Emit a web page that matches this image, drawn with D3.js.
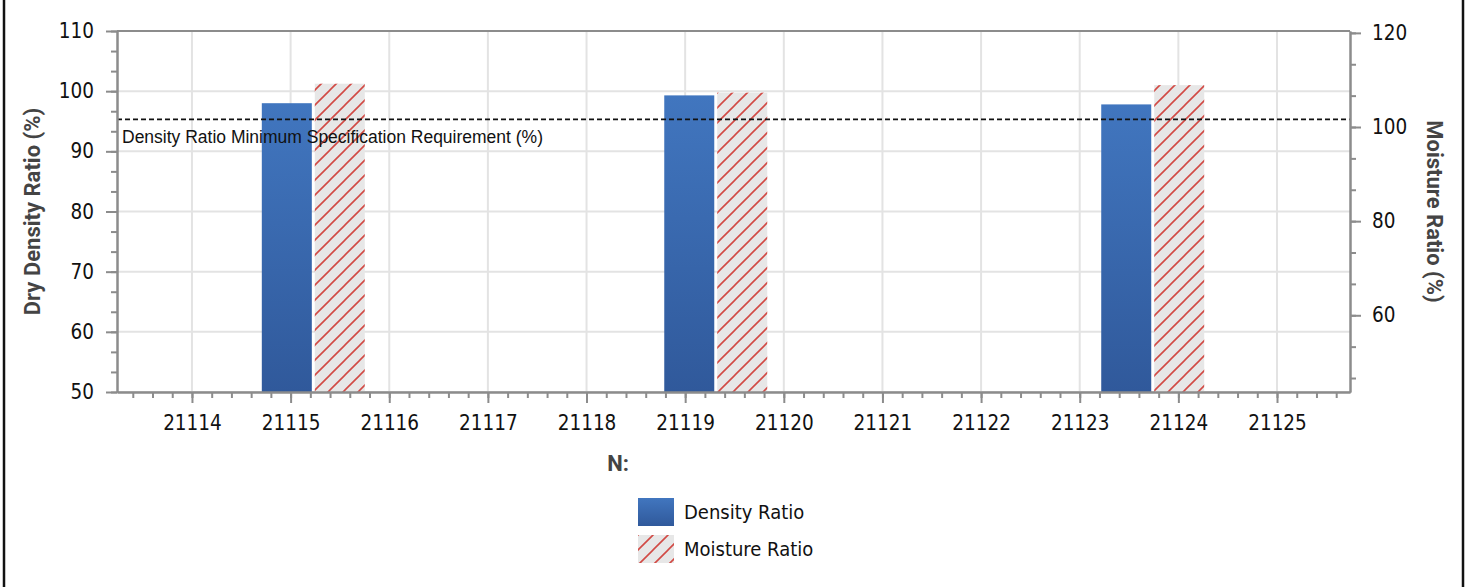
<!DOCTYPE html>
<html lang="en">
<head>
<meta charset="UTF-8">
<title>Density / Moisture Ratio</title>
<script src="https://cdn.jsdelivr.net/npm/d3@7/dist/d3.min.js"></script>
<style>
  body { margin: 0; background: #fff; }
  .tick text { font-family: "DejaVu Sans Condensed", "DejaVu Sans", sans-serif; }
</style>
</head>
<body>
<div id="main_container"></div>
<script>

    // data
    var categories = [21115.23, 21119.31, 21123.74];   // group centers on the N: axis
    var densityRatio = [98.0, 99.3, 97.8];            // left axis
    var moistureRatio = [109.2, 107.3, 108.9];        // right axis
    var specMin = 95.3;
    var leftTicks = [50, 60, 70, 80, 90, 100, 110];
    var rightTicks = [60, 80, 100, 120];
    var xTicks = [21114, 21115, 21116, 21117, 21118, 21119, 21120, 21121, 21122, 21123, 21124, 21125];

    var svgWidth = 1475;
    var svgHeight = 587;
    var plotL = 117, plotR = 1350, plotT = 31, plotB = 392;
    var barW = 0.507;   // bar width in N: units
    var gap = 0.015;

    var svg = d3.select("#main_container").append("svg")
            .attr("width", svgWidth)
            .attr("height", svgHeight);

    var x = d3.scaleLinear().domain([21113.24, 21125.74]).range([plotL, plotR]);
    var yL = d3.scaleLinear().domain([50, 110]).range([plotB, plotT]);
    var yR = d3.scaleLinear().domain([43.7, 120.4]).range([plotB, plotT]);

    var defs = svg.append("defs");
    var grad = defs.append("linearGradient").attr("id", "blueGrad")
            .attr("x1", 0).attr("y1", 0).attr("x2", 0).attr("y2", 1);
    grad.append("stop").attr("offset", "0%").attr("stop-color", "#4176bf");
    grad.append("stop").attr("offset", "100%").attr("stop-color", "#30599b");

    var hatch = defs.append("pattern").attr("id", "hatch")
            .attr("patternUnits", "userSpaceOnUse")
            .attr("width", 15).attr("height", 15);
    hatch.append("rect").attr("width", 15).attr("height", 15).attr("fill", "#e7e7e7");
    hatch.append("path")
            .attr("d", "M-2,2 L2,-2 M0,15 L15,0 M13,17 L17,13")
            .attr("stroke", "#d24a45").attr("stroke-width", 1.6);

    // page border (left and right only)
    svg.append("line").attr("x1", 4).attr("x2", 4).attr("y1", 0).attr("y2", svgHeight)
            .attr("stroke", "#111").attr("stroke-width", 2.5);
    svg.append("line").attr("x1", 1463).attr("x2", 1463).attr("y1", 0).attr("y2", svgHeight)
            .attr("stroke", "#111").attr("stroke-width", 2.5);

    // grid
    var grid = svg.append("g");
    grid.selectAll(".vg").data(xTicks).enter().append("line")
            .attr("x1", function(d){ return x(d); }).attr("x2", function(d){ return x(d); })
            .attr("y1", plotT).attr("y2", plotB)
            .attr("stroke", "#e3e3e3").attr("stroke-width", 2);
    grid.selectAll(".hg").data(leftTicks).enter().append("line")
            .attr("x1", plotL).attr("x2", plotR)
            .attr("y1", function(d){ return yL(d); }).attr("y2", function(d){ return yL(d); })
            .attr("stroke", "#e3e3e3").attr("stroke-width", 2);

    // bars
    svg.selectAll(".dbar").data(densityRatio).enter().append("rect")
            .attr("class", "dbar")
            .attr("x", function(d, i){ return x(categories[i] - gap - barW); })
            .attr("width", function(d, i){ return x(categories[i] - gap) - x(categories[i] - gap - barW); })
            .attr("y", function(d){ return yL(d); })
            .attr("height", function(d){ return plotB - yL(d); })
            .attr("fill", "url(#blueGrad)");

    svg.selectAll(".mbar").data(moistureRatio).enter().append("rect")
            .attr("class", "mbar")
            .attr("x", function(d, i){ return x(categories[i] + gap); })
            .attr("width", function(d, i){ return x(categories[i] + gap + barW) - x(categories[i] + gap); })
            .attr("y", function(d){ return yR(d); })
            .attr("height", function(d){ return plotB - yR(d); })
            .attr("fill", "url(#hatch)");

    // spec line
    svg.append("line")
            .attr("x1", plotL).attr("x2", plotR)
            .attr("y1", yL(specMin)).attr("y2", yL(specMin))
            .attr("stroke", "#111").attr("stroke-width", 1.8)
            .attr("stroke-dasharray", "5,3");
    svg.append("text")
            .attr("x", 122).attr("y", yL(specMin) + 24)
            .attr("font-family", "Liberation Sans, Arial, sans-serif")
            .attr("font-size", 17.5).attr("fill", "#111")
            .attr("textLength", 421).attr("lengthAdjust", "spacingAndGlyphs")
            .text("Density Ratio Minimum Specification Requirement (%)");

    // plot frame top
    svg.append("line").attr("x1", plotL).attr("x2", plotR).attr("y1", plotT).attr("y2", plotT)
            .attr("stroke", "#8c8c8c").attr("stroke-width", 2);

    var axisColor = "#8c8c8c";
    function styleAxis(g) {
        g.select(".domain").attr("stroke", axisColor).attr("stroke-width", 2);
        g.selectAll(".tick line").attr("stroke", axisColor).attr("stroke-width", 2);
        g.selectAll(".tick text").attr("fill", "#111").attr("font-size", 20.5);
    }

    // minor ticks
    var minorX = d3.range(21113.4, 21125.75, 0.2);
    var minorL = d3.range(50, 110.01, 10 / 3);
    var minorR = d3.range(46.67, 120.1, 20 / 3);

    svg.append("g").attr("transform", "translate(0," + plotB + ")")
            .call(d3.axisBottom(x).tickValues(minorX).tickSize(6).tickFormat("").tickSizeOuter(0))
            .call(styleAxis);
    svg.append("g").attr("transform", "translate(" + plotL + ",0)")
            .call(d3.axisLeft(yL).tickValues(minorL).tickSize(6).tickFormat("").tickSizeOuter(0))
            .call(styleAxis);
    svg.append("g").attr("transform", "translate(" + plotR + ",0)")
            .call(d3.axisRight(yR).tickValues(minorR).tickSize(6).tickFormat("").tickSizeOuter(0))
            .call(styleAxis);

    // major axes
    svg.append("g").attr("transform", "translate(0," + plotB + ")")
            .call(d3.axisBottom(x).tickValues(xTicks).tickSize(11).tickPadding(12)
                .tickFormat(d3.format("d")).tickSizeOuter(0))
            .call(styleAxis);
    svg.append("g").attr("transform", "translate(" + plotL + ",0)")
            .call(d3.axisLeft(yL).tickValues(leftTicks).tickSize(11).tickPadding(12).tickSizeOuter(0))
            .call(styleAxis);
    svg.append("g").attr("transform", "translate(" + plotR + ",0)")
            .call(d3.axisRight(yR).tickValues(rightTicks).tickSize(11).tickPadding(11).tickSizeOuter(0))
            .call(styleAxis);

    // axis titles
    var titleFont = "Roboto, 'Liberation Sans', sans-serif";
    svg.append("text")
            .attr("transform", "translate(40," + ((plotT + plotB) / 2) + ") rotate(-90)")
            .attr("text-anchor", "middle")
            .attr("font-family", titleFont).attr("font-weight", "bold")
            .attr("font-size", 22).attr("fill", "#444")
            .text("Dry Density Ratio (%)");
    svg.append("text")
            .attr("transform", "translate(1427," + ((plotT + plotB) / 2) + ") rotate(90)")
            .attr("text-anchor", "middle")
            .attr("font-family", titleFont).attr("font-weight", "bold")
            .attr("font-size", 22).attr("fill", "#444")
            .text("Moisture Ratio (%)");
    svg.append("text")
            .attr("x", 618).attr("y", 471)
            .attr("text-anchor", "middle")
            .attr("font-family", titleFont).attr("font-weight", "bold")
            .attr("font-size", 22).attr("fill", "#444")
            .text("N:");

    // legend
    var legendItems = [
        { name: "Density Ratio", fill: "url(#blueGrad)" },
        { name: "Moisture Ratio", fill: "url(#hatch)" }
    ];
    var legend = svg.selectAll(".legend").data(legendItems).enter().append("g")
            .attr("transform", function(d, i){ return "translate(638," + (498 + i * 37) + ")"; });
    legend.append("rect")
            .attr("width", 36).attr("height", 28)
            .attr("fill", function(d){ return d.fill; });
    legend.append("text")
            .attr("x", 46).attr("y", 21)
            .attr("font-family", "DejaVu Sans Condensed, DejaVu Sans, sans-serif")
            .attr("font-size", 20).attr("fill", "#111")
            .text(function(d){ return d.name; });

</script>
</body>
</html>
